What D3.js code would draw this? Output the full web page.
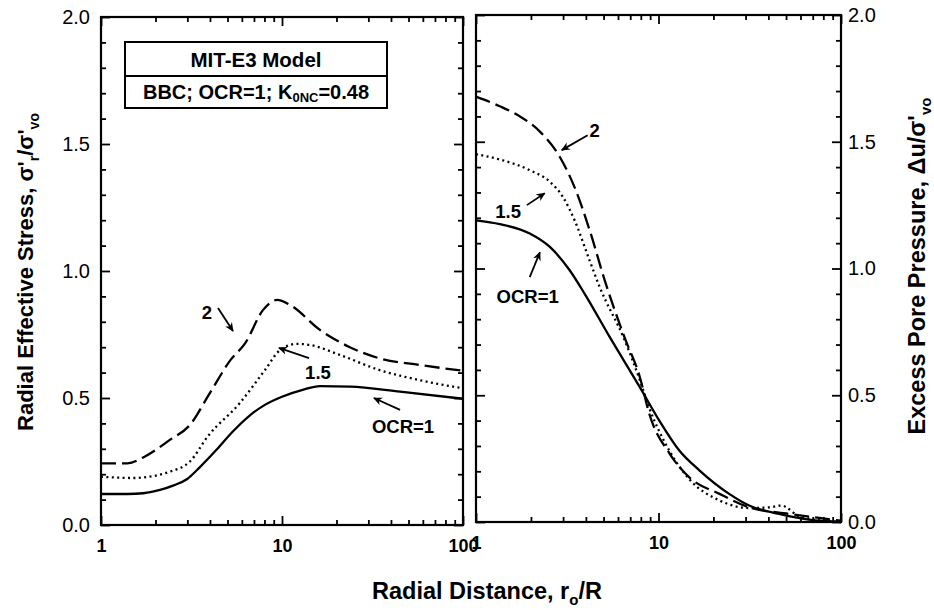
<!DOCTYPE html>
<html><head><meta charset="utf-8">
<script src="https://cdn.jsdelivr.net/npm/d3@7"></script>
<style>body{margin:0;background:#fff} svg{display:block} text{font-family:"Liberation Sans",Arial,sans-serif;fill:#000}</style>
</head><body><svg id="c" width="934" height="610"></svg>
<script>
// ---------- data ----------
const xMajorTicks = [1, 10, 100];
const xMajorLabels = ["1", "10", "100"];
const xMinorTicks = [2,3,4,5,6,7,8,9,20,30,40,50,60,70,80,90];
const yMajorTicks = [0, 0.5, 1.0, 1.5, 2.0];
const yMajorLabels = ["0.0", "0.5", "1.0", "1.5", "2.0"];
const yMinorTicks = [0.1,0.2,0.3,0.4,0.6,0.7,0.8,0.9,1.1,1.2,1.3,1.4,1.6,1.7,1.8,1.9];

// Left panel: radial effective stress
const stressR_ocr1 = [1, 1.4, 1.71, 2.12, 2.5, 2.98, 3.52, 4.37, 5.3, 6.6, 8, 10, 13, 16.2, 23.8, 44.9, 100];
const stressV_ocr1 = [0.122, 0.122, 0.125, 0.138, 0.155, 0.18, 0.228, 0.298, 0.365, 0.43, 0.472, 0.505, 0.532, 0.547, 0.545, 0.525, 0.497];
const stressR_ocr15 = [1, 1.5, 2.4, 3.1, 3.9, 5.85, 8.05, 9.8, 12.1, 14.2, 20.8, 34.6, 57.8, 100];
const stressV_ocr15 = [0.19, 0.185, 0.21, 0.25, 0.35, 0.48, 0.61, 0.69, 0.713, 0.709, 0.67, 0.61, 0.57, 0.538];
const stressR_ocr2 = [1, 1.4, 1.75, 2.4, 3.1, 4.0, 5.2, 6.25, 7.85, 9.4, 11.1, 16.2, 23.7, 34.6, 57.8, 100];
const stressV_ocr2 = [0.243, 0.243, 0.27, 0.335, 0.394, 0.52, 0.65, 0.715, 0.846, 0.886, 0.866, 0.768, 0.70, 0.656, 0.63, 0.607];

// Right panel: excess pore pressure
const poreR_ocr1 = [1, 1.35, 1.97, 2.54, 3.26, 3.94, 5.4, 7.9, 10.1, 13, 16.8, 24.4, 31.4, 45.8, 66.6, 100];
const poreV_ocr1 = [1.19, 1.175, 1.138, 1.085, 0.993, 0.90, 0.73, 0.532, 0.40, 0.282, 0.203, 0.111, 0.065, 0.032, 0.009, 0.0];
const poreR_ocr15 = [1, 1.35, 1.97, 2.54, 2.99, 3.47, 4.2, 4.76, 6.5, 7.9, 8.9, 11.5, 14.7, 21.6, 31.4, 41, 47, 60, 100];
const poreV_ocr15 = [1.451, 1.43, 1.388, 1.342, 1.283, 1.19, 1.03, 0.927, 0.72, 0.56, 0.45, 0.28, 0.17, 0.085, 0.055, 0.058, 0.065, 0.02, 0.0];
const poreR_ocr2 = [1, 1.35, 1.74, 2.24, 2.88, 3.47, 4.2, 5.07, 6.5, 7.9, 8.9, 11.5, 14.7, 21.6, 31.4, 52, 76, 100];
const poreV_ocr2 = [1.678, 1.64, 1.60, 1.54, 1.44, 1.32, 1.15, 0.954, 0.73, 0.572, 0.427, 0.27, 0.177, 0.111, 0.058, 0.032, 0.016, 0.005];

// annotations: label, label position (r, v), arrow from (r, v) to (r, v)
const leftNotes = [
  {t:"2",     r:3.85, v:0.835, r1:4.43, v1:0.854, r2:5.36, v2:0.764},
  {t:"1.5",   r:15.8, v:0.602, r1:14.1, v1:0.657, r2:9.62, v2:0.697},
  {t:"OCR=1", r:46.6, v:0.386, r1:44.9, v1:0.453, r2:32.2, v2:0.500}
];
const rightNotes = [
  {t:"2",     r:4.47, v:1.546, r1:4.09, v1:1.526, r2:2.95, v2:1.467},
  {t:"1.5",   r:1.50, v:1.223, r1:1.90, v1:1.250, r2:2.38, v2:1.297},
  {t:"OCR=1", r:1.92, v:0.891, r1:1.97, v1:0.966, r2:2.24, v2:1.064}
];

// ---------- drawing ----------
const svg = d3.select("#c");
svg.append("rect").attr("width",934).attr("height",610).attr("fill","#fff");
const defs = svg.append("defs");
defs.append("marker").attr("id","ah").attr("viewBox","0 0 10 10").attr("refX",9).attr("refY",5)
  .attr("markerWidth",9).attr("markerHeight",9).attr("markerUnits","userSpaceOnUse").attr("orient","auto")
  .append("path").attr("d","M0,0.5 L10,5 L0,9.5 L3,5 Z").attr("fill","#000");

const styles = {
  solid:{dash:null, w:2.3},
  dotted:{dash:"2,3.4", w:2.3},
  dashed:{dash:"15,6", w:2.3}
};

function panel(cfg){
  const x = d3.scaleLog().domain([1,100]).range([cfg.x0, cfg.x1]);
  const y = d3.scaleLinear().domain([0,2]).range([cfg.yb, cfg.yt]);
  const g = svg.append("g");
  const fmtX = d => xMajorLabels[xMajorTicks.indexOf(d)];
  const fmtY = d => yMajorLabels[yMajorTicks.indexOf(d)];
  function styleAxis(sel){ sel.select(".domain").remove(); sel.selectAll("line").attr("stroke","#000").attr("stroke-width",1.8); }
  // bottom
  g.append("g").attr("transform",`translate(0,${cfg.yb})`)
    .call(d3.axisBottom(x).tickValues(xMajorTicks).tickFormat(fmtX).tickSizeInner(-9).tickSizeOuter(0).tickPadding(14))
    .call(styleAxis).selectAll("text").attr("font-size",18).attr("font-weight","bold").attr("font-family","Liberation Sans, Arial");
  g.append("g").attr("transform",`translate(0,${cfg.yb})`)
    .call(d3.axisBottom(x).tickValues(xMinorTicks).tickFormat("").tickSizeInner(-5).tickSizeOuter(0)).call(styleAxis);
  // top
  g.append("g").attr("transform",`translate(0,${cfg.yt})`)
    .call(d3.axisTop(x).tickValues(xMajorTicks).tickFormat("").tickSizeInner(-9).tickSizeOuter(0)).call(styleAxis);
  g.append("g").attr("transform",`translate(0,${cfg.yt})`)
    .call(d3.axisTop(x).tickValues(xMinorTicks).tickFormat("").tickSizeInner(-5).tickSizeOuter(0)).call(styleAxis);
  // left
  const la = g.append("g").attr("transform",`translate(${cfg.x0},0)`)
    .call(d3.axisLeft(y).tickValues(yMajorTicks).tickFormat(cfg.labelSide==="left"?fmtY:"").tickSizeInner(-9).tickSizeOuter(0).tickPadding(11))
    .call(styleAxis);
  g.append("g").attr("transform",`translate(${cfg.x0},0)`)
    .call(d3.axisLeft(y).tickValues(yMinorTicks).tickFormat("").tickSizeInner(-5).tickSizeOuter(0)).call(styleAxis);
  // right
  const ra = g.append("g").attr("transform",`translate(${cfg.x1},0)`)
    .call(d3.axisRight(y).tickValues(yMajorTicks).tickFormat(cfg.labelSide==="right"?fmtY:"").tickSizeInner(-9).tickSizeOuter(0).tickPadding(7))
    .call(styleAxis);
  g.append("g").attr("transform",`translate(${cfg.x1},0)`)
    .call(d3.axisRight(y).tickValues(yMinorTicks).tickFormat("").tickSizeInner(-5).tickSizeOuter(0)).call(styleAxis);
  [la,ra].forEach(a=>a.selectAll("text").attr("font-size",20).attr("font-family","Liberation Sans, Arial"));
  // frame
  g.append("rect").attr("x",cfg.x0).attr("y",cfg.yt).attr("width",cfg.x1-cfg.x0).attr("height",cfg.yb-cfg.yt)
    .attr("fill","none").attr("stroke","#000").attr("stroke-width",2.2);
  // curves
  const line = d3.line().x(d=>x(d[0])).y(d=>y(d[1])).curve(d3.curveMonotoneX);
  cfg.series.forEach(s=>{
    const pts = s.r.map((r,i)=>[r, s.v[i]]);
    const st = styles[s.style];
    g.append("path").datum(pts).attr("d",line).attr("fill","none").attr("stroke","#000")
      .attr("stroke-width",st.w).attr("stroke-dasharray",st.dash);
  });
  // annotations
  cfg.notes.forEach(n=>{
    g.append("line").attr("x1",x(n.r1)).attr("y1",y(n.v1)).attr("x2",x(n.r2)).attr("y2",y(n.v2))
      .attr("stroke","#000").attr("stroke-width",1.8).attr("marker-end","url(#ah)");
    g.append("text").attr("x",x(n.r)).attr("y",y(n.v)+6.5).attr("text-anchor","middle")
      .attr("font-size",18.5).attr("font-weight","bold").text(n.t);
  });
}

panel({x0:101, x1:463, yt:17, yb:525, labelSide:"left",
  series:[{r:stressR_ocr1,v:stressV_ocr1,style:"solid"},{r:stressR_ocr15,v:stressV_ocr15,style:"dotted"},{r:stressR_ocr2,v:stressV_ocr2,style:"dashed"}],
  notes:leftNotes});
panel({x0:476, x1:841, yt:15, yb:522, labelSide:"right",
  series:[{r:poreR_ocr1,v:poreV_ocr1,style:"solid"},{r:poreR_ocr15,v:poreV_ocr15,style:"dotted"},{r:poreR_ocr2,v:poreV_ocr2,style:"dashed"}],
  notes:rightNotes});

// legend box
const lg = svg.append("g");
lg.append("rect").attr("x",125).attr("y",42).attr("width",262).attr("height",66).attr("fill","#fff").attr("stroke","#000").attr("stroke-width",2);
lg.append("line").attr("x1",125).attr("x2",387).attr("y1",76).attr("y2",76).attr("stroke","#000").attr("stroke-width",1.8);
lg.append("text").attr("x",256).attr("y",67).attr("text-anchor","middle").attr("font-size",20.5).attr("font-weight","bold").text("MIT-E3 Model");
const t2 = lg.append("text").attr("x",256).attr("y",99).attr("text-anchor","middle").attr("font-size",20).attr("font-weight","bold");
t2.append("tspan").text("BBC; OCR=1; K");
t2.append("tspan").attr("font-size",13).attr("dy",3).text("0NC");
t2.append("tspan").attr("dy",-3).text("=0.48");

// axis titles
const xt = svg.append("text").attr("x",487).attr("y",599).attr("text-anchor","middle").attr("font-size",23.5).attr("font-weight","bold");
xt.append("tspan").text("Radial Distance, r");
xt.append("tspan").attr("font-size",15).attr("dy",6).text("o");
xt.append("tspan").attr("dy",-6).text("/R");

const yl = svg.append("text").attr("transform","translate(33,272) rotate(-90)").attr("text-anchor","middle").attr("font-size",22).attr("font-weight","bold");
yl.append("tspan").text("Radial Effective Stress, σ'");
yl.append("tspan").attr("font-size",14).attr("dy",6).text("r");
yl.append("tspan").attr("dy",-6).text("/σ'");
yl.append("tspan").attr("font-size",14).attr("dy",6).text("vo");

const yr = svg.append("text").attr("transform","translate(925,266) rotate(-90)").attr("text-anchor","middle").attr("font-size",23.5).attr("font-weight","bold");
yr.append("tspan").text("Excess Pore Pressure, Δu/σ'");
yr.append("tspan").attr("font-size",15).attr("dy",6).text("vo");
</script></body></html>
